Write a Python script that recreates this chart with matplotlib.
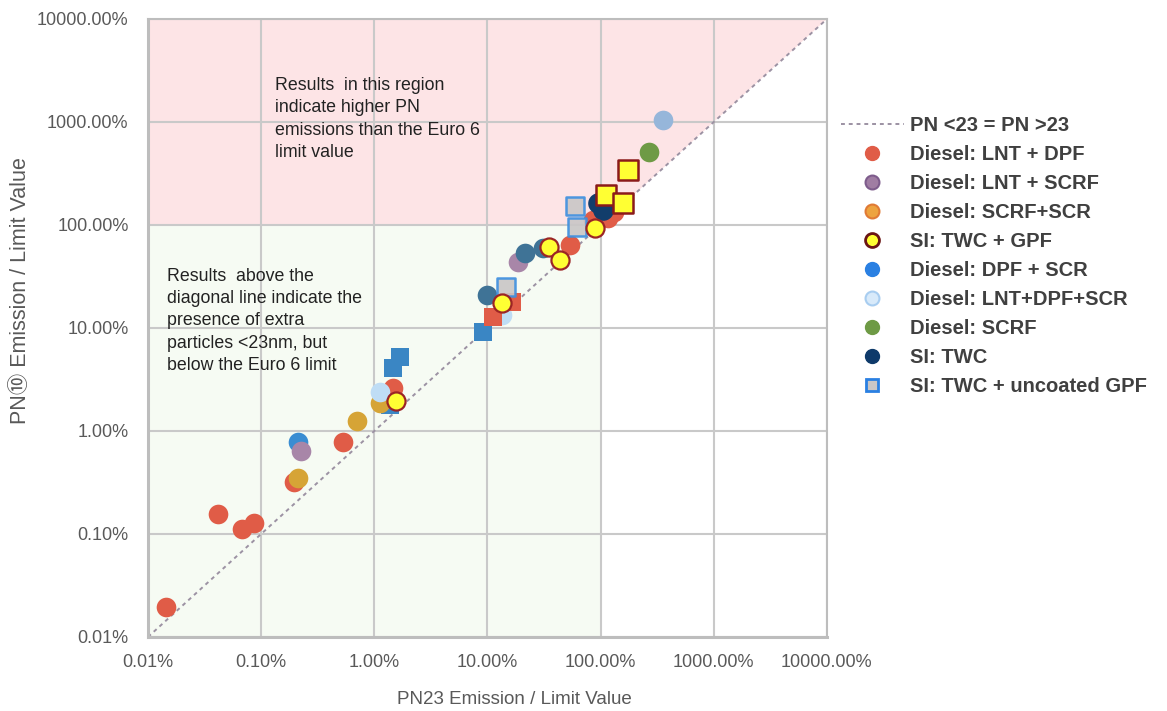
import matplotlib.pyplot as plt
from matplotlib.lines import Line2D
from matplotlib.ticker import FixedLocator, FuncFormatter, NullLocator

plt.rcParams['font.family'] = ['Liberation Sans', 'Noto Sans CJK SC', 'DejaVu Sans']

# emissions as % of the Euro 6 limit value (PN23 on x, PN10 on y)
lnt_dpf_x = [0.0144, 0.0416, 0.0678, 0.0865, 0.195, 0.528, 1.46, 53.6, 85.5, 116, 131]
lnt_dpf_y = [0.0195, 0.156, 0.112, 0.128, 0.32, 0.78, 2.61, 64, 111, 117, 134]
lnt_scrf_x = [0.225, 18.6]
lnt_scrf_y = [0.64, 43.7]
scrf_scr_x = [0.211, 0.70, 1.12]
scrf_scr_y = [0.35, 1.25, 1.87]
dpf_scr_x = [0.211]
dpf_scr_y = [0.78]
lnt_dpf_scr_x = [1.12, 13.4]
lnt_dpf_scr_y = [2.39, 13.4]
scrf_x = [267]
scrf_y = [511]
twc_x = [94.7, 104.8]
twc_y = [163.6, 139.9]
extra_teal_x = [9.9, 21.4, 30.9]
extra_teal_y = [20.9, 53.5, 59.8]
extra_steel_x = [356]
extra_steel_y = [1045]
red_sq_x = [11.2, 16.4]
red_sq_y = [12.8, 17.9]
blue_sq_x = [1.37, 1.46, 1.69, 9.1]
blue_sq_y = [1.79, 4.09, 5.23, 9.1]
ugpf_x = [14.6, 59.3, 61.8]
ugpf_y = [25.0, 153, 95.7]
gpf_x = [1.55, 13.4, 34.9, 43.8, 89.1]
gpf_y = [1.96, 17.5, 61.2, 45.7, 93.5]
gpf_sq_x = [111, 157, 174]
gpf_sq_y = [195, 164, 342]

LIMIT = 100.0
lo, hi = 0.01, 10000.0
decades = [0.01, 0.1, 1, 10, 100, 1000, 10000]

fig = plt.figure(figsize=(11.67, 7.11), dpi=100)
ax = fig.add_axes([0.1268, 0.1041, 0.5818, 0.8692])
ax.set_xscale('log')
ax.set_yscale('log')
ax.set_xlim(lo, hi)
ax.set_ylim(lo, hi)

# shaded regions
ax.fill([lo, LIMIT, hi, hi, lo], [LIMIT, LIMIT, hi, hi, hi], color='#FDE4E6', zorder=0, lw=0)
ax.fill([lo, LIMIT, LIMIT, lo], [lo, lo, LIMIT, LIMIT], color='#F6FBF3', zorder=0, lw=0)

ax.plot([lo, hi], [lo, hi], ls=(0, (2, 2)), color='#9C92A3', lw=1.4, zorder=2)

s_c = 200
s_s = 180
ax.scatter(lnt_dpf_x, lnt_dpf_y, s=s_c, c='#E05C47', lw=0, zorder=3)
ax.scatter(lnt_scrf_x, lnt_scrf_y, s=s_c, c='#A886A8', lw=0, zorder=3)
ax.scatter(scrf_scr_x, scrf_scr_y, s=s_c, c='#D6A436', lw=0, zorder=3)
ax.scatter(dpf_scr_x, dpf_scr_y, s=s_c, c='#3A8DD2', lw=0, zorder=2.9)
ax.scatter(lnt_dpf_scr_x, lnt_dpf_scr_y, s=s_c, c='#BFDDF5', lw=0, zorder=3)
ax.scatter(extra_teal_x, extra_teal_y, s=s_c, c='#3F7396', lw=0, zorder=3)
ax.scatter(scrf_x, scrf_y, s=s_c, c='#6E9A45', lw=0, zorder=3)
ax.scatter(extra_steel_x, extra_steel_y, s=s_c, c='#96B6DA', lw=0, zorder=3)
ax.scatter(twc_x, twc_y, s=s_c * 1.1, c='#123D6B', lw=0, zorder=3.2)
ax.scatter(red_sq_x, red_sq_y, s=s_s, marker='s', c='#E05C47', lw=0, zorder=3.1)
ax.scatter(blue_sq_x, blue_sq_y, s=s_s, marker='s', c='#3A86C4', lw=0, zorder=2.95)
ax.scatter(ugpf_x, ugpf_y, s=s_s, marker='s', c='#C9C6C6', alpha=0.9,
           edgecolors='#3C8FE0', lw=1.8, zorder=3.3)
ax.scatter(gpf_x, gpf_y, s=s_c * 0.85, c='#FFFF33', edgecolors='#9B2525', lw=1.6, zorder=3.4)
ax.scatter(gpf_sq_x, gpf_sq_y, s=s_s * 1.05, marker='s', c='#FFFF33',
           edgecolors='#8B1A1A', lw=1.8, zorder=3.5)

ax.xaxis.set_major_locator(FixedLocator(decades))
ax.yaxis.set_major_locator(FixedLocator(decades))
ax.xaxis.set_minor_locator(NullLocator())
ax.yaxis.set_minor_locator(NullLocator())
fmt = FuncFormatter(lambda v, p: f'{v:.2f}%')
ax.xaxis.set_major_formatter(fmt)
ax.yaxis.set_major_formatter(fmt)
ax.tick_params(length=0, labelsize=13, labelcolor='#595959')
ax.tick_params(axis='y', pad=14)
ax.tick_params(axis='x', pad=12)
ax.grid(True, color='#C9C9C9', lw=1.5, zorder=1)
ax.set_axisbelow(True)
for side, sp in ax.spines.items():
    sp.set_color('#BDBDBD')
    sp.set_linewidth(1.5 if side in ('top', 'right') else 2.2)

ax.set_xlabel('PN23 Emission / Limit Value', fontsize=13.5, color='#595959')
ax.xaxis.set_label_coords(0.54, -0.088)
ax.set_ylabel('PN⑩ Emission / Limit Value', fontsize=15.5, color='#595959')
ax.yaxis.set_label_coords(-0.172, 0.56)

note_kw = dict(fontsize=12.8, color='#222222', va='top', ha='left', linespacing=1.41, zorder=4)
ax.text(0.132, 2740, 'Results  in this region\nindicate higher PN\nemissions than the Euro 6\nlimit value', **note_kw)
ax.text(0.0147, 38.4, 'Results  above the\ndiagonal line indicate the\npresence of extra\nparticles <23nm, but\nbelow the Euro 6 limit', **note_kw)

handles = [
    Line2D([], [], ls=(0, (2, 2)), color='#9C92A3', lw=1.4),
    Line2D([], [], ls='', marker='o', ms=10, mfc='#E05C47', mec='#E05C47'),
    Line2D([], [], ls='', marker='o', ms=10, mfc='#A07DA3', mec='#7E5C8C', mew=1.5),
    Line2D([], [], ls='', marker='o', ms=10, mfc='#EDA33F', mec='#E07A35', mew=1.5),
    Line2D([], [], ls='', marker='o', ms=10, mfc='#FFFF33', mec='#6A1515', mew=2),
    Line2D([], [], ls='', marker='o', ms=10, mfc='#2A80E2', mec='#2A80E2'),
    Line2D([], [], ls='', marker='o', ms=10, mfc='#D8EAFA', mec='#A8CDF0', mew=1.5),
    Line2D([], [], ls='', marker='o', ms=10, mfc='#6E9A45', mec='#6E9A45'),
    Line2D([], [], ls='', marker='o', ms=10, mfc='#0E3A6A', mec='#0E3A6A'),
    Line2D([], [], ls='', marker='s', ms=9, mfc='#C9C6C6', mec='#2A80E2', mew=2),
]
labels = ['PN <23 = PN >23', 'Diesel: LNT + DPF', 'Diesel: LNT + SCRF', 'Diesel: SCRF+SCR',
          'SI: TWC + GPF', 'Diesel: DPF + SCR', 'Diesel: LNT+DPF+SCR', 'Diesel: SCRF',
          'SI: TWC', 'SI: TWC + uncoated GPF']
leg = fig.legend(handles, labels, loc='upper left', bbox_to_anchor=(0.7052, 0.8626),
                 frameon=False, handlelength=3.1, handletextpad=0.3, labelspacing=0.5,
                 prop={'size': 14.5, 'weight': 'bold'})
for t in leg.get_texts():
    t.set_color('#404040')

fig.savefig('out.png', dpi=100)
